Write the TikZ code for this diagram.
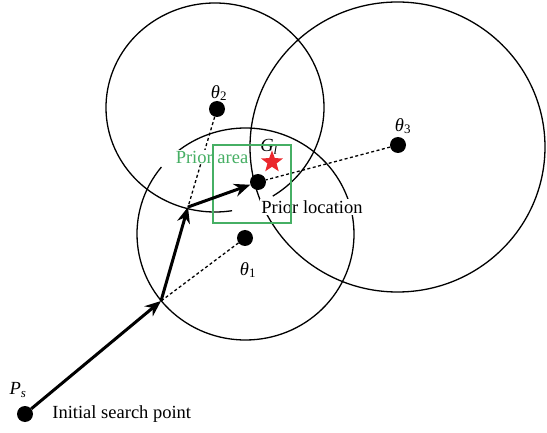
\documentclass[tikz,border=0pt]{standalone}
\usepackage{fontspec}
\setmainfont{Liberation Serif}
\usetikzlibrary{arrows.meta,positioning,shapes.geometric}
\definecolor{areagreen}{RGB}{70,175,100}
\definecolor{goalred}{RGB}{235,40,45}

\begin{document}
\begin{tikzpicture}[
  x=1pt, y=-1pt,
  font=\fontsize{18.5}{20}\selectfont,
  dot/.style={circle, fill=black, inner sep=0pt, minimum size=16pt},
  lbl/.style={inner sep=1pt},
  ring/.style={line width=1.3pt},
  guide/.style={dash pattern=on 3pt off 2.5pt, line width=1.3pt},
  arr/.style={-{Stealth[length=16pt, width=13pt]}, line width=3pt},
  prior/.style={draw=areagreen, line width=1.3pt}]
\useasboundingbox (0,0) rectangle (547,433);
% search ranges of the three anchors
\draw[ring] (245.5,234) ++(140.8:108.5pt and 106pt)
  arc[start angle=140.8, end angle=489.6, x radius=108.5pt, y radius=106pt];
\draw[ring] (215,107.5) ++(-58:109pt and 104.5pt)
  arc[start angle=-58, end angle=279, x radius=109pt, y radius=104.5pt];
\draw[ring] (397.5,147) ellipse[x radius=147.5pt, y radius=145pt];
% anchors and path points
\node[dot] (ps) at (25,414) {};
\node[dot] (t1) at (245,238) {};
\node[dot] (t2) at (217,109) {};
\node[dot] (t3) at (398,145) {};
\node[dot] (pl) at (258,182) {};
\coordinate (p1) at (161,301);
\coordinate (p2) at (188,207);
\draw[guide] (t1) -- (p1);
\draw[guide] (t2) -- (p2);
\draw[guide] (t3) -- (pl);
% labels
\node[lbl] at (219,93) {\textit{θ}\textsubscript{2}};
\node[lbl] at (403,126) {\textit{θ}\textsubscript{3}};
\node[lbl] at (248,270) {\textit{θ}\textsubscript{1}};
\node[lbl] at (18,390) {\textit{P}\textsubscript{\textit{s}}};
\node[lbl, right=18pt of ps] (init) {Initial search point};
\node[lbl, fill=white] (loc) at (312,207) {Prior location};
\node[lbl, fill=white, text=areagreen] (area) at (212,157) {Prior area};
\node[lbl] (gl) at (269,147) {\textit{G}\textsubscript{\textit{l}}};
\draw[prior] (213,145) rectangle (291,223);
% search path
\draw[arr] (ps) -- (p1);
\draw[arr] (p1) -- (p2);
\draw[arr] (p2) -- (pl);
\node[star, star points=5, star point ratio=2.4, fill=goalred, inner sep=0pt,
      minimum size=23pt] (goal) at (272,162) {};
\end{tikzpicture}
\end{document}
